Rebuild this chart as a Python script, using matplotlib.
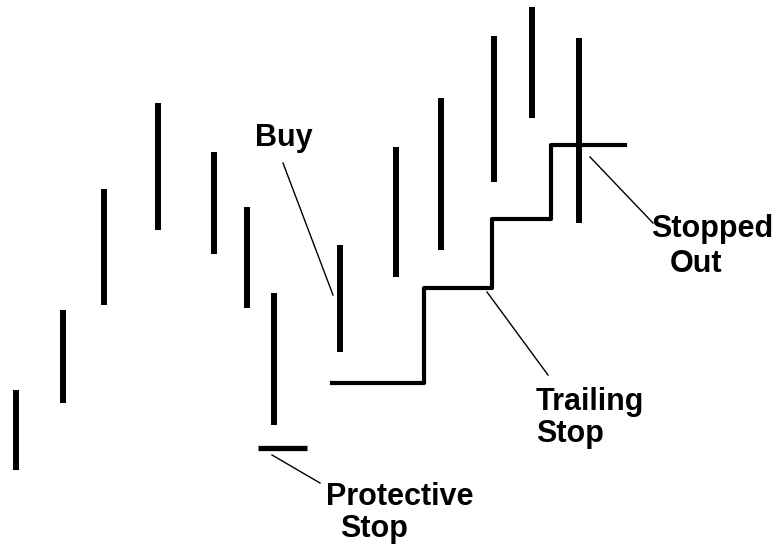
import matplotlib
matplotlib.use("Agg")
import matplotlib.pyplot as plt

# price bars (x position, high, low)
bar_x = [16, 63, 104, 158, 214, 247, 274, 340, 396, 441, 494, 532, 579]
bar_high = [161, 241, 362, 448, 399, 344, 258, 306, 404, 453, 515, 544, 513]
bar_low = [81, 148, 246, 321, 297, 243, 126, 199, 274, 301, 369, 433, 328]

# trailing stop steps
stop_x = [332, 424, 492, 551, 625]
stop_level = [168, 263, 332, 406, 406]

# initial protective stop
prot_x = [258, 307]
prot_level = 103

# leader lines: (from, to)
leaders = {
    "buy": ((283, 388), (333, 256)),
    "protective": ((272, 96), (320, 68)),
    "trailing": ((487, 259), (548, 176)),
    "stopped": ((590, 394), (653, 328)),
}

# labels, one entry per text line
labels = [
    ("Buy", 255, 405),
    ("Protective", 326, 46),
    ("Stop", 340, 14),
    ("Trailing", 536, 141),
    ("Stop", 536, 109),
    ("Stopped", 651, 314),
    ("Out", 670, 279),
]

fig = plt.figure(figsize=(7.81, 5.51), dpi=100)
ax = fig.add_axes([0, 0, 1, 1])
ax.set_xlim(0, 781)
ax.set_ylim(0, 551)
ax.axis("off")

ax.vlines(bar_x, bar_low, bar_high, colors="black", linewidth=4.3)

ax.step(stop_x, stop_level, where="post", color="black", linewidth=3,
        solid_joinstyle="round")

ax.hlines(prot_level, prot_x[0], prot_x[1], colors="black", linewidth=3.8)

for (x0, y0), (x1, y1) in leaders.values():
    ax.plot([x0, x1], [y0, y1], color="black", linewidth=1.0)

for txt, x, y in labels:
    ax.text(x, y, txt, ha="left", va="baseline", fontsize=22,
            fontweight="bold", family=["Liberation Sans", "DejaVu Sans"])

fig.savefig("out.png", dpi=100, facecolor="white")
